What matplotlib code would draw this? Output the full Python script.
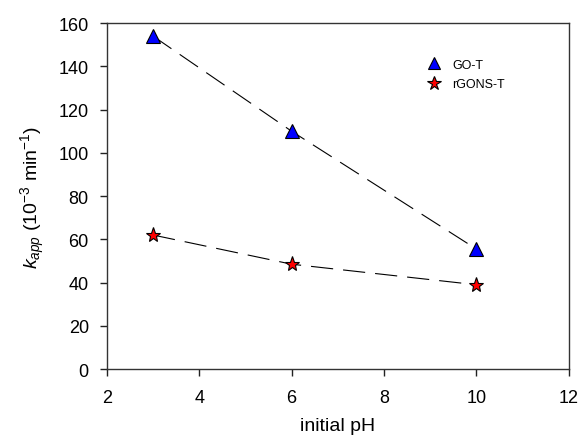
import matplotlib
matplotlib.use('Agg')
import matplotlib.pyplot as plt

plt.rcParams['font.family'] = ['Liberation Sans', 'DejaVu Sans']
plt.rcParams['mathtext.fontset'] = 'custom'
plt.rcParams['mathtext.rm'] = 'Liberation Sans'
plt.rcParams['mathtext.it'] = 'Liberation Sans:italic'

ph = [3, 6, 10]
go_t = [154, 110, 55.5]
rgons_t = [62, 48.5, 39]

fig = plt.figure(figsize=(5.81, 4.39), dpi=100)
ax = fig.add_axes([0.184, 0.157, 0.795, 0.788])

dash = (0, (20, 9))
ax.plot(ph, go_t, color='black', lw=0.8, ls=dash,
        marker='^', ms=10, mfc='#0000ff', mec='black', mew=0.8, label='GO-T')
ax.plot(ph, rgons_t, color='black', lw=0.8, ls=dash,
        marker='*', ms=11, mfc='#ff0000', mec='black', mew=0.8, label='rGONS-T')

ax.set_xlim(2, 12)
ax.set_ylim(0, 160)
ax.set_xticks([2, 4, 6, 8, 10, 12])
ax.set_yticks(range(0, 161, 20))
ax.tick_params(axis='both', direction='out', length=5, labelsize=13, width=1,
               colors='#222222', labelcolor='black')
ax.tick_params(axis='x', pad=9)
ax.tick_params(axis='y', pad=8)
for s in ax.spines.values():
    s.set_color('#333333')
    s.set_linewidth(1)

ax.set_xlabel('initial pH', fontsize=14, labelpad=8)
ax.set_ylabel(r'$k_{app}$ (10$^{-3}$ min$^{-1}$)', fontsize=14, labelpad=8)

leg = ax.legend(loc='upper left', bbox_to_anchor=(0.67, 0.93), frameon=False,
                fontsize=9, handlelength=1.0, handletextpad=1.0, labelspacing=0.6,
                markerscale=0.9)
for h in leg.legend_handles:
    h.set_linestyle('None')

fig.savefig('out.png', dpi=100)
